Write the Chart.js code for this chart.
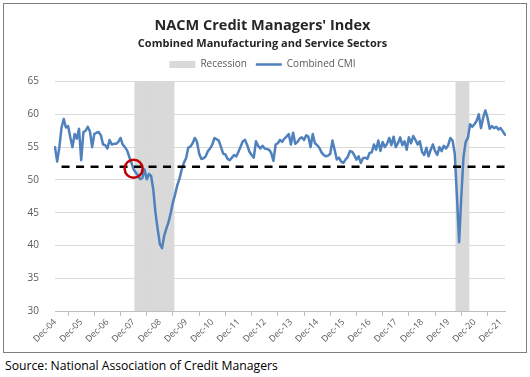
<!DOCTYPE html>
<html>
<head>
<meta charset="utf-8">
<script src="https://cdn.jsdelivr.net/npm/chart.js@4.4.1/dist/chart.umd.min.js"></script>
<style>
  body { margin: 0; background: #fff; width: 530px; height: 377px; position: relative; overflow: hidden; }
  #frame { position: absolute; left: 3px; top: 3px; width: 522px; height: 348px; border: 1px solid #7f7f7f; }
  #chart1 { position: absolute; left: 0; top: 0; }
  #source { position: absolute; left: 5px; top: 357px; font-family: "Open Sans", sans-serif; font-size: 12.2px; color: #000; white-space: nowrap; }
</style>
</head>
<body>
<div id="frame"><canvas id="chart1" width="522" height="348"></canvas></div>
<div id="source">Source: National Association of Credit Managers</div>
<script>
// months shown on the category axis, Dec-04 .. Feb-22
var MONTHS = ['Jan', 'Feb', 'Mar', 'Apr', 'May', 'Jun', 'Jul', 'Aug', 'Sep', 'Oct', 'Nov', 'Dec'];
var FIRST_MONTH = 'Dec-04';

// Combined CMI, monthly
var CMI = [
  55.0,                                                              // Dec-04
  52.8, 55.0, 58.0, 59.3, 58.0, 58.2, 56.5, 55.0, 57.0, 56.3, 57.8, 53.0, // 2005
  57.3, 57.5, 58.1, 57.4, 55.0, 57.0, 57.2, 57.3, 56.8, 55.4, 55.3, 54.8, // 2006
  56.1, 55.4, 55.5, 55.5, 55.8, 56.4, 55.4, 55.0, 54.5, 53.5, 52.6, 51.6, // 2007
  51.1, 50.7, 50.1, 50.3, 51.6, 50.1, 50.9, 50.6, 48.5, 45.0, 42.5, 40.2, // 2008
  39.6, 41.5, 42.6, 43.6, 45.0, 46.6, 47.8, 49.2, 50.2, 51.6, 52.6, 53.3, // 2009
  54.9, 55.1, 55.6, 56.4, 55.8, 54.0, 53.2, 53.3, 53.6, 54.4, 54.8, 55.4, // 2010
  56.4, 56.2, 56.0, 55.0, 54.0, 53.9, 53.2, 53.0, 53.4, 53.8, 53.6, 54.3, // 2011
  55.1, 55.9, 56.1, 55.3, 54.3, 53.8, 53.4, 55.9, 55.2, 54.8, 55.2, 54.8, // 2012
  54.7, 54.6, 54.1, 52.9, 55.4, 55.6, 56.1, 55.8, 56.3, 56.6, 57.0, 55.4, // 2013
  57.2, 55.5, 55.8, 56.3, 56.5, 56.1, 56.8, 56.6, 55.0, 57.0, 55.6, 55.3, // 2014
  54.9, 54.2, 53.8, 53.6, 53.7, 54.0, 56.0, 54.6, 53.1, 53.4, 52.8, 52.6, // 2015
  53.1, 53.5, 54.4, 54.3, 53.8, 53.1, 53.6, 52.6, 53.3, 53.4, 53.2, 54.1, // 2016
  54.2, 55.4, 54.6, 56.0, 54.4, 55.8, 55.0, 55.5, 56.4, 55.3, 56.6, 55.0, // 2017
  55.6, 56.5, 55.3, 55.9, 54.6, 56.5, 55.6, 56.7, 56.1, 55.4, 55.9, 54.3, // 2018
  53.8, 54.9, 53.6, 54.6, 55.4, 54.4, 53.8, 55.0, 54.4, 55.2, 54.8, 55.3, // 2019
  56.4, 56.0, 54.0, 47.5, 40.5, 47.5, 53.5, 55.8, 56.4, 58.5, 58.1, 58.5, // 2020
  59.0, 60.0, 57.9, 59.5, 60.6, 59.5, 57.8, 58.2, 57.9, 58.1, 57.7, 57.9, // 2021
  57.4, 56.9                                                         // 2022
];

var RECESSIONS = [['Jan-08', 'Jun-09'], ['Apr-20', 'Sep-20']];
var THRESHOLD = 52;
var THRESHOLD_FROM = 'Mar-05';
var MARKED_MONTH = 'Dec-07';
var MARKED_VALUE = 51.7;

var Y_MIN = 30, Y_MAX = 65, Y_STEP = 5;

var CMI_COLOR = '#4f81bd';
var RECESSION_COLOR = '#d9d9d9';
var FONT = '"Open Sans", sans-serif';

var labels = [];
var start = MONTHS.indexOf(FIRST_MONTH.split('-')[0]);
var startYear = 2000 + parseInt(FIRST_MONTH.split('-')[1], 10);
for (var i = 0; i < CMI.length; i++) {
  var m = start + i;
  var yr = startYear + Math.floor(m / 12);
  labels.push(MONTHS[m % 12] + '-' + String(yr % 100).padStart(2, '0'));
}

var recession = labels.map(function (l, i) {
  var on = RECESSIONS.some(function (r) {
    return i >= labels.indexOf(r[0]) && i <= labels.indexOf(r[1]);
  });
  return on ? Y_MAX : null;
});
var threshold = labels.map(function (l, i) {
  return i >= labels.indexOf(THRESHOLD_FROM) ? THRESHOLD : null;
});
var marker = labels.map(function (l) {
  return l === MARKED_MONTH ? MARKED_VALUE : null;
});

// small gap between the legend and the plot
var spacer = {
  id: 'spacer',
  beforeInit: function (chart) {
    Chart.layouts.addBox(chart, {
      position: 'top', weight: 500, fullSize: true, options: {},
      isHorizontal: function () { return true; },
      update: function (w) { this.width = w; this.height = 2; },
      draw: function () {}
    });
  }
};

var ctx = document.getElementById('chart1').getContext('2d');
var myChart = new Chart(ctx, {
  plugins: [spacer],
  data: {
    labels: labels,
    datasets: [{
      type: 'bar',
      label: 'Recession',
      data: recession,
      backgroundColor: RECESSION_COLOR,
      barPercentage: 1,
      categoryPercentage: 1,
      order: 4
    }, {
      type: 'line',
      label: 'Combined CMI',
      data: CMI,
      borderColor: CMI_COLOR,
      borderWidth: 2.5,
      borderJoinStyle: 'round',
      borderCapStyle: 'round',
      pointRadius: 0,
      tension: 0,
      order: 2
    }, {
      type: 'line',
      label: 'threshold',
      data: threshold,
      borderColor: '#000',
      borderWidth: 2.5,
      borderDash: [8, 6.5],
      pointRadius: 0,
      order: 1
    }, {
      type: 'line',
      label: 'marker',
      data: marker,
      showLine: false,
      pointRadius: 9,
      pointBorderWidth: 2.5,
      pointBorderColor: '#c00000',
      pointBackgroundColor: 'rgba(0,0,0,0)',
      order: 0
    }]
  },
  options: {
    responsive: false,
    animation: false,
    layout: { padding: { left: 0, right: 5, top: 0, bottom: 0 } },
    plugins: {
      tooltip: { enabled: false },
      title: {
        display: true,
        text: "NACM Credit Managers' Index",
        color: '#262626',
        font: { family: FONT, size: 14.5, weight: 'bold', lineHeight: 1.2 },
        padding: { top: 13, bottom: 0 }
      },
      subtitle: {
        display: true,
        text: 'Combined Manufacturing and Service Sectors',
        color: '#262626',
        font: { family: FONT, size: 11, weight: 'bold', lineHeight: 1.2 },
        padding: { top: 3, bottom: 0 }
      },
      legend: {
        display: true,
        labels: {
          usePointStyle: true,
          pointStyleWidth: 26,
          boxHeight: 7,
          padding: 9,
          color: '#595959',
          font: { family: FONT, size: 10 },
          generateLabels: function () {
            return [{
              text: 'Recession', fillStyle: RECESSION_COLOR, strokeStyle: RECESSION_COLOR,
              lineWidth: 0, pointStyle: 'rect', datasetIndex: 0, fontColor: '#595959'
            }, {
              text: 'Combined CMI', fillStyle: CMI_COLOR, strokeStyle: CMI_COLOR,
              lineWidth: 2.5, pointStyle: 'line', datasetIndex: 1, fontColor: '#595959'
            }];
          }
        }
      }
    },
    scales: {
      x: {
        type: 'category',
        offset: false,
        afterBuildTicks: function (scale) {
          scale.ticks = scale.ticks.filter(function (t) { return labels[t.value].indexOf('Dec') === 0; });
        },
        afterFit: function (scale) { scale.height = 41; },
        grid: { drawOnChartArea: false, drawTicks: true, tickLength: 5, color: '#bfbfbf' },
        border: { display: true, color: '#bfbfbf' },
        ticks: {
          autoSkip: false,
          minRotation: 45,
          maxRotation: 45,
          padding: 1,
          color: '#595959',
          font: { family: FONT, size: 8.8 }
        }
      },
      y: {
        min: Y_MIN,
        max: Y_MAX,
        afterFit: function (scale) { scale.width = 51; },
        grid: { color: '#d9d9d9', drawTicks: false },
        border: { display: false },
        ticks: {
          stepSize: Y_STEP,
          padding: 16,
          color: '#595959',
          font: { family: FONT, size: 10 }
        }
      },
      // empty right-hand axis, only keeps the plot narrower than the titles
      y2: {
        position: 'right',
        afterFit: function (scale) { scale.width = 16; },
        grid: { display: false },
        border: { display: false },
        ticks: { display: false }
      }
    }
  }
});
</script>
</body>
</html>
